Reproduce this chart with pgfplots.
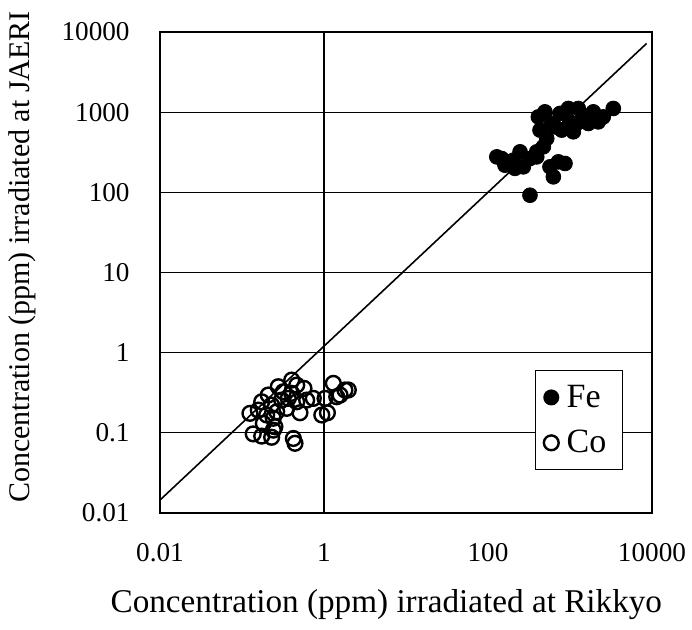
\documentclass[border=0pt]{standalone}
\usepackage{fontspec}
\setmainfont{Liberation Serif}
\usepackage{pgfplots}
\pgfplotsset{compat=1.18}

% Fe concentrations (ppm): Rikkyo vs JAERI irradiation
\pgfplotstableread{
x y
128 277
161 218
204 252
246 320
270 208
325 264
393 320
325 92
411 873
495 1009
431 597
520 470
473 370
570 208
627 156
721 240
869 229
755 964
955 1112
1262 1112
1000 757
793 597
1099 569
1455 873
1675 722
1925 1009
2213 757
2545 873
3373 1112
599 722
656 656
393 277
213 199
1208 722
147 264
}\fedata

% Co concentrations (ppm)
\pgfplotstableread{
x y
0.404 0.455
0.277 0.376
0.319 0.325
0.465 0.394
0.570 0.359
1.30 0.414
1.80 0.342
1.57 0.296
1.03 0.269
0.741 0.269
0.174 0.244
0.230 0.222
0.367 0.269
0.465 0.244
0.125 0.175
0.158 0.192
0.200 0.167
0.265 0.183
0.351 0.202
0.509 0.178
0.94 0.167
1.10 0.178
0.182 0.131
0.252 0.119
0.137 0.097
0.174 0.091
0.230 0.088
0.423 0.085
0.443 0.074
0.241 0.108
0.305 0.256
0.615 0.256
0.209 0.296
0.404 0.311
0.241 0.152
1.43 0.282
1.98 0.342
}\codata

\begin{document}
\begin{tikzpicture}
\begin{loglogaxis}[
  name=ax, at={(0,0)}, anchor=south west,
  scale only axis, width=246pt, height=240.5pt,
  xmin=0.01, xmax=10000, ymin=0.01, ymax=10000,
  xtick={0.01,1,100,10000},
  xticklabels={\textrm{0.01},\textrm{1},\textrm{100},\textrm{10000}},
  ytick={0.01,0.1,1,10,100,1000,10000},
  yticklabels={\textrm{0.01},\textrm{0.1},\textrm{1},\textrm{10},\textrm{100},\textrm{1000},\textrm{10000}},
  xminorticks=false, yminorticks=false,
  major tick length=0pt,
  ymajorgrids,
  major grid style={black, line width=0.55pt},
  extra x ticks={1}, extra x tick labels={},
  extra x tick style={grid=major},
  axis line style={black, line width=0.75pt},
  font=\fontsize{13.6}{16}\selectfont,
  xticklabel style={anchor=center, inner sep=0pt, yshift=-20pt},
  yticklabel style={anchor=east, inner sep=0pt, xshift=-15pt},
  xlabel={Concentration (ppm) irradiated at Rikkyo},
  ylabel={Concentration (ppm) irradiated at JAERI},
  xlabel style={font=\fontsize{16.6}{19}\selectfont,
    at={(axis description cs:0.46,-0.191)}, anchor=center},
  ylabel style={font=\fontsize{15}{18}\selectfont,
    at={(axis description cs:-0.2805,0.532)}, anchor=center, rotate=0},
  legend style={at={(axis description cs:0.941,0.089)}, anchor=south east,
    draw=black, line width=0.6pt, font=\fontsize{17}{19}\selectfont,
    row sep=6pt, inner xsep=4pt, inner ysep=5pt,
    nodes={inner xsep=4pt}},
  legend cell align=left,
  clip=false,
]
\addplot[black, line width=0.8pt, forget plot] coordinates {(0.01,0.0145) (8600,7200)};
\addplot[only marks, mark=*, mark size=3.7pt, mark options={fill=black, draw=black}] table {\fedata};
\addlegendentry{Fe}
\addplot[only marks, mark=o, mark size=3.7pt, mark options={draw=black, line width=1.2pt}] table {\codata};
\addlegendentry{Co}
\end{loglogaxis}
\pgfresetboundingbox
\path[use as bounding box] (-80pt,-58.5pt) rectangle (266pt,256.5pt);
\end{tikzpicture}
\end{document}
